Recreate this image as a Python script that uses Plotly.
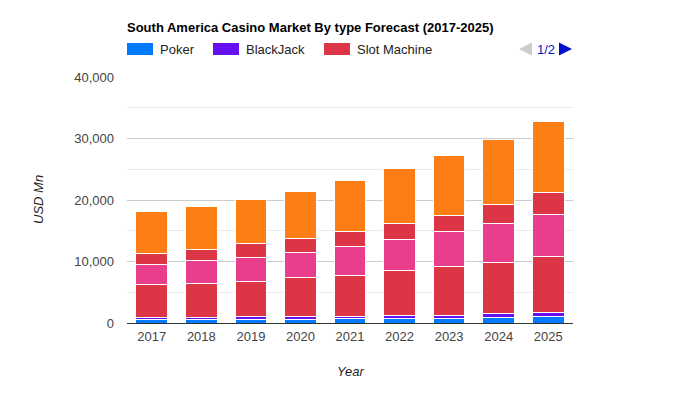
import plotly.graph_objects as go

years = ["2017", "2018", "2019", "2020", "2021", "2022", "2023", "2024", "2025"]
poker = [650, 650, 600, 620, 700, 720, 720, 870, 1030]
blackjack = [200, 220, 400, 400, 420, 500, 560, 600, 650]
slot_machine = [5330, 5630, 5830, 6300, 6680, 7240, 7830, 8390, 9210]
roulette = [3350, 3630, 3900, 4220, 4560, 5040, 5690, 6240, 6830]
baccarat = [1850, 1900, 2120, 2120, 2440, 2600, 2760, 3250, 3580]
others = [6720, 6880, 7200, 7690, 8340, 8990, 9640, 10450, 11430]

series = [
    ("Poker", poker, "#007bff"),
    ("BlackJack", blackjack, "#6610f2"),
    ("Slot Machine", slot_machine, "#dc3545"),
    ("Roulette", roulette, "#e83e8c"),
    ("Baccarat", baccarat, "#dc3545"),
    ("Others", others, "#fd7e14"),
]
y_ticks = [0, 10000, 20000, 30000, 40000]
y_tick_labels = ["0", "10,000", "20,000", "30,000", "40,000"]

FONT = "Arial, 'Liberation Sans', sans-serif"

fig = go.Figure()
for name, vals, color in series:
    fig.add_trace(go.Bar(
        x=years, y=vals, name=name,
        marker=dict(color=color, line=dict(color="white", width=1)),
        showlegend=False,
    ))

# page body has an 8px margin: work in viewport pixels, convert to figure pixels
OFF = 8
W, H = 700, 400
PL, PR, PT, PB = 127, 573, 77, 323  # plot area in viewport pixels
L, T = PL - OFF, PT - OFF
R, B = W - (PR - OFF), H - (PB - OFF)
pw, ph = PR - PL, PB - PT

def px(x):
    return (x - PL) / pw

def py(y):
    return (PB - y) / ph

def tri(points):
    return "M " + " L ".join(f"{px(x):.5f},{py(y):.5f}" for x, y in points) + " Z"

shapes = []
annotations = []
legend_items = [(series[0], 127, 158), (series[1], 213, 244), (series[2], 324, 355)]
for (name, _, color), sx, tx in legend_items:
    shapes.append(dict(type="rect", xref="paper", yref="paper",
                       x0=px(sx), x1=px(sx + 26), y0=py(55), y1=py(43),
                       fillcolor=color, line=dict(width=0)))
    annotations.append(dict(xref="paper", yref="paper", x=px(tx), y=py(49),
                            text=name, showarrow=False, xanchor="left", yanchor="middle",
                            font=dict(family=FONT, size=13, color="#222222")))
# legend paging arrows
shapes.append(dict(type="path", xref="paper", yref="paper",
                   path=tri([(519, 49), (532, 42.5), (532, 55.5)]),
                   fillcolor="#cccccc", line=dict(width=0)))
shapes.append(dict(type="path", xref="paper", yref="paper",
                   path=tri([(559, 42.5), (572, 49), (559, 55.5)]),
                   fillcolor="#0011cc", line=dict(width=0)))
annotations.append(dict(xref="paper", yref="paper", x=px(546), y=py(49), text="1/2",
                        showarrow=False, xanchor="center", yanchor="middle",
                        font=dict(family=FONT, size=13, color="#0011cc")))
annotations.append(dict(xref="paper", yref="paper", x=px(38), y=py(200), text="<i>USD Mn</i>",
                        showarrow=False, textangle=-90, xanchor="center", yanchor="middle",
                        font=dict(family=FONT, size=13, color="#222222")))
annotations.append(dict(xref="paper", yref="paper", x=px(350), y=py(371), text="<i>Year</i>",
                        showarrow=False, xanchor="center", yanchor="middle",
                        font=dict(family=FONT, size=13, color="#222222")))

fig.update_layout(
    width=W, height=H,
    margin=dict(l=L, r=R, t=T, b=B),
    barmode="stack",
    bargap=0.36,
    plot_bgcolor="white",
    paper_bgcolor="white",
    font=dict(family=FONT, size=13, color="#444444"),
    title=dict(text="<b>South America Casino Market By type Forecast (2017-2025)</b>",
               x=(PL - OFF) / W, xanchor="left", y=1 - (27 - OFF) / H, yanchor="middle",
               font=dict(family=FONT, size=13, color="#000000")),
    shapes=shapes,
    annotations=annotations,
    xaxis=dict(showgrid=False, ticks="", showline=False,
               tickfont=dict(family=FONT, size=13, color="#444444"),
               ticklabelstandoff=4),
    yaxis=dict(range=[0, 40000], tickvals=y_ticks, ticktext=y_tick_labels,
               showgrid=True, gridcolor="#cccccc", gridwidth=1,
               minor=dict(tickvals=[5000, 15000, 25000, 35000], showgrid=True,
                          gridcolor="#ebebeb", gridwidth=1, ticks=""),
               zeroline=True, zerolinecolor="#333333", zerolinewidth=1,
               ticks="", showline=False, ticklabelstandoff=12,
               tickfont=dict(family=FONT, size=13, color="#444444")),
)

fig.write_html("out.html")
